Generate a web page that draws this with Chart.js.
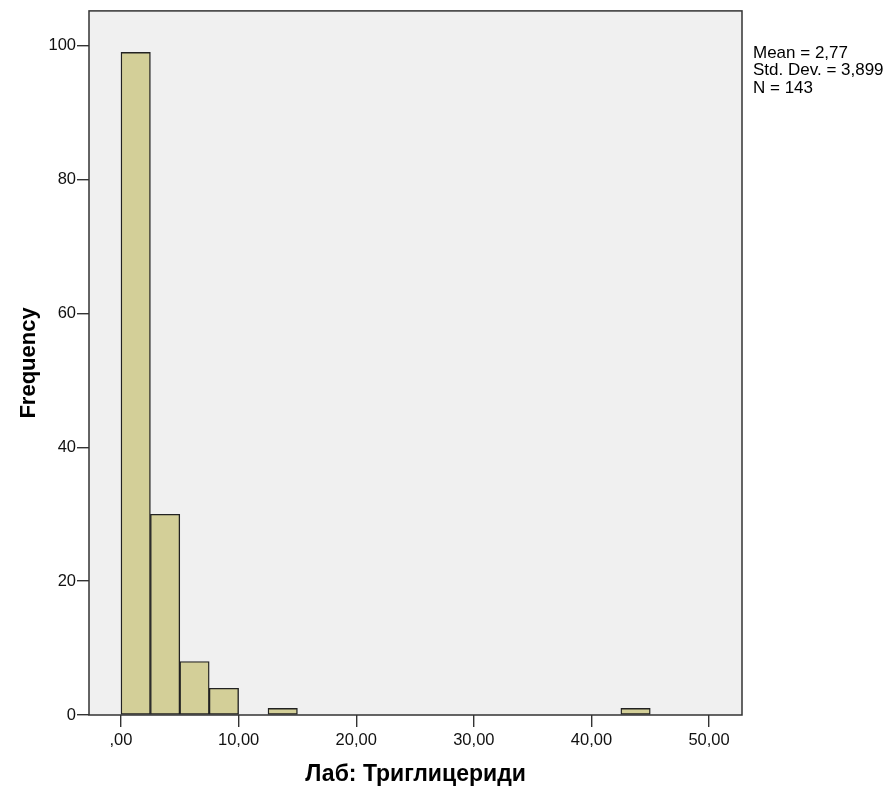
<!DOCTYPE html>
<html>
<head>
<meta charset="utf-8">
<title>Лаб: Триглицериди</title>
<script src="https://cdn.jsdelivr.net/npm/chart.js@4/dist/chart.umd.min.js"></script>
<style>
  html, body { margin: 0; padding: 0; background: #ffffff; }
  #wrap { width: 889px; height: 790px; }
</style>
</head>
<body>
<div id="wrap"><canvas id="hist" width="889" height="790"></canvas></div>
<script>
// Histogram bins (width 2,5) and their frequencies
const binStarts = [0, 2.5, 5, 7.5, 10, 12.5, 15, 17.5, 20, 22.5, 25, 27.5, 30, 32.5, 35, 37.5, 40, 42.5, 45, 47.5];
const counts    = [99, 30, 8, 4, 0, 1, 0, 0, 0, 0, 0, 0, 0, 0, 0, 0, 0, 1, 0, 0];
const binWidth = 2.5;

// Axis ticks
const xTickValues = [0, 10, 20, 30, 40, 50];
const xTickLabels = [',00', '10,00', '20,00', '30,00', '40,00', '50,00'];
const yTickValues = [0, 20, 40, 60, 80, 100];
const yTickLabels = ['0', '20', '40', '60', '80', '100'];

// Summary statistics box
const statLines = ['Mean = 2,77', 'Std. Dev. = 3,899', 'N = 143'];

const xTitle = 'Лаб: Триглицериди';
const yTitle = 'Frequency';

const FONT = '"Liberation Sans", Arial, sans-serif';

// Only occupied bins are drawn as bars
const barData = [];
binStarts.forEach((s, i) => {
  if (counts[i] > 0) barData.push({ x: s + binWidth / 2, y: counts[i] });
});

// Grey plot area with a dark frame, plus the statistics text
const frame = {
  id: 'frame',
  beforeDatasetsDraw(chart) {
    const { ctx, chartArea: a } = chart;
    ctx.save();
    ctx.fillStyle = '#f0f0f0';
    ctx.fillRect(a.left, a.top, a.right - a.left, a.bottom - a.top);
    ctx.restore();
  },
  afterDatasetsDraw(chart) {
    const { ctx, chartArea: a } = chart;
    ctx.save();
    ctx.strokeStyle = '#333333';
    ctx.lineWidth = 1.5;
    ctx.strokeRect(a.left, a.top, a.right - a.left, a.bottom - a.top);
    ctx.fillStyle = '#000000';
    ctx.font = '17px ' + FONT;
    ctx.textBaseline = 'alphabetic';
    ctx.textAlign = 'left';
    statLines.forEach((t, i) => ctx.fillText(t, a.right + 11, 57.5 + i * 17.9));
    ctx.restore();
  }
};

new Chart(document.getElementById('hist'), {
  type: 'bar',
  data: {
    datasets: [{
      data: barData,
      backgroundColor: '#d3cf98',
      borderColor: '#222222',
      borderWidth: 1.4,
      borderSkipped: false,
      barPercentage: 1,
      categoryPercentage: 1
    }]
  },
  options: {
    responsive: false,
    animation: false,
    devicePixelRatio: 1,
    layout: { padding: { left: 0, right: 147, top: 10, bottom: 0 } },
    plugins: {
      legend: { display: false },
      tooltip: { enabled: false }
    },
    scales: {
      x: {
        type: 'linear',
        offset: false,
        min: -2.72,
        max: 52.8,
        afterBuildTicks(scale) { scale.ticks = xTickValues.map(v => ({ value: v })); },
        afterFit(scale) { scale.height = 75; },
        border: { display: false },
        grid: { offset: false, drawOnChartArea: false, drawTicks: true, tickLength: 12, color: '#333333', lineWidth: 1.4 },
        ticks: {
          autoSkip: false,
          maxRotation: 0,
          padding: 4,
          color: '#111111',
          font: { family: FONT, size: 16.5 },
          callback(v) { const i = xTickValues.indexOf(v); return i >= 0 ? xTickLabels[i] : ''; }
        },
        title: {
          display: true,
          text: xTitle,
          color: '#000000',
          font: { family: FONT, size: 23, weight: 'bold' },
          padding: { top: 0, bottom: 2 }
        }
      },
      y: {
        type: 'linear',
        min: 0,
        max: 105.2,
        afterBuildTicks(scale) { scale.ticks = yTickValues.map(v => ({ value: v })); },
        afterFit(scale) { scale.width = 89; },
        border: { display: false },
        grid: { drawOnChartArea: false, drawTicks: true, tickLength: 12, color: '#333333', lineWidth: 1.4 },
        ticks: {
          padding: 1,
          color: '#111111',
          font: { family: FONT, size: 16.5 },
          callback(v) { const i = yTickValues.indexOf(v); return i >= 0 ? yTickLabels[i] : ''; }
        },
        title: {
          display: true,
          text: yTitle,
          color: '#000000',
          font: { family: FONT, size: 22, weight: 'bold' },
          padding: { top: 16, bottom: 0 }
        }
      }
    }
  },
  plugins: [frame]
});
</script>
</body>
</html>
